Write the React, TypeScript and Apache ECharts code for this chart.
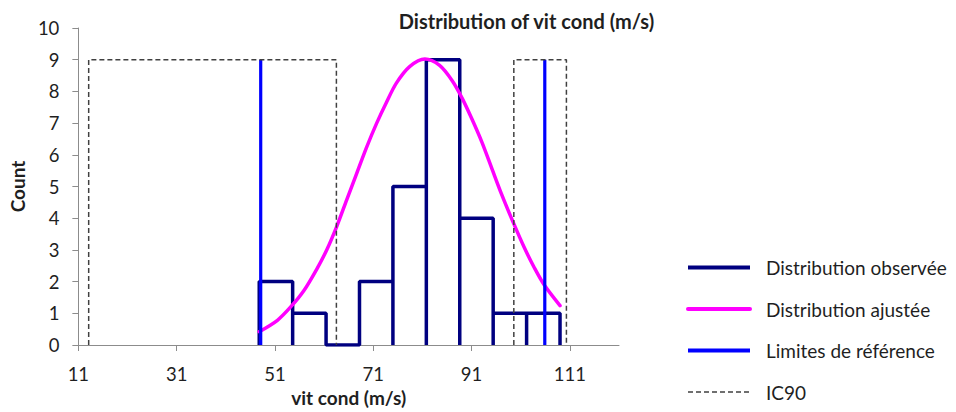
import React, { useEffect, useRef } from 'react';
import * as echarts from 'echarts';

// ---- Data ----
const xTicks = [11, 31, 51, 71, 91, 111];
const binEdges = [47.8, 54.6, 61.4, 68.2, 75.0, 81.8, 88.6, 95.4, 102.2, 109.0];
const binCounts = [2, 1, 0, 2, 5, 9, 4, 1, 1];
const fitX = [47.8, 51.5, 54.2, 56.9, 59.6, 61.6, 63.6, 65.6, 67.6, 69.6, 71.7, 73.7, 75.7, 78.4, 81.5, 84.5, 87.1, 89.1, 91.1, 93.1, 95.1, 97.1, 99.5, 101.8, 103.8, 105.8, 109.0];
const fitY = [0.42, 0.78, 1.2, 1.72, 2.42, 3.02, 3.75, 4.58, 5.4, 6.22, 7.0, 7.66, 8.26, 8.78, 9.02, 8.82, 8.33, 7.78, 7.12, 6.4, 5.58, 4.76, 3.86, 3.05, 2.43, 1.89, 1.24];
const refLimits = [48.1, 105.9];
const refLimitTop = 9;
const ic90Left = [13.1, 63.5];
const ic90Right = [99.6, 110.3];
const ic90Top = 9;
const legendNames = ['Distribution observée', 'Distribution ajustée', 'Limites de référence', 'IC90'];

const FONT = 'Lato';
const TEXT = '#1f1f1f';
const AXIS = '#8c8c8c';

function histogramPath(): number[][] {
  const pts: number[][] = [];
  binCounts.forEach((c, i) => {
    const l = binEdges[i];
    const r = binEdges[i + 1];
    if (i === 0) pts.push([l, 0]);
    pts.push([l, c], [r, c], [r, 0]);
  });
  return pts;
}

function boxPath(lo: number, hi: number, top: number): number[][] {
  return [[lo, 0], [lo, top], [hi, top], [hi, 0]];
}

export default function App() {
  const ref = useRef<HTMLDivElement>(null);
  useEffect(() => {
    document.body.style.margin = '0';
    const chart = echarts.init(ref.current!, null, { renderer: 'svg' });
    const dashed = { color: '#404040', width: 1.5, type: [5, 3] as any };
    const option: any = {
      animation: false,
      grid: { left: 70, top: 28, width: 549, height: 319.5, containLabel: false },
      graphic: [
        {
          type: 'text',
          x: 526.5,
          y: 21,
          style: {
            text: 'Distribution of vit cond (m/s)',
            fontFamily: FONT,
            fontWeight: 'bold',
            fontSize: 20,
            fill: TEXT,
            align: 'center',
            verticalAlign: 'middle',
          },
        },
      ],
      legend: {
        orient: 'vertical',
        left: 686,
        top: 258,
        height: 152,
        padding: 0,
        itemWidth: 62,
        itemHeight: 14,
        itemGap: 22.5,
        data: legendNames.map((n, i) => ({
          name: n,
          lineStyle: i === 3 ? { width: 1.5 } : { width: 4 },
        })),
        itemStyle: { opacity: 0 },
        textStyle: { fontFamily: FONT, fontSize: 19, color: TEXT, padding: [0, 0, 0, 11] },
        selectedMode: false,
      },
      xAxis: {
        type: 'value',
        min: 11,
        max: 121,
        interval: 20,
        name: 'vit cond (m/s)',
        nameLocation: 'middle',
        nameGap: 43,
        nameTextStyle: { fontFamily: FONT, fontWeight: 'bold', fontSize: 19, color: TEXT },
        axisLine: { show: true, lineStyle: { color: AXIS, width: 1 } },
        axisTick: { show: true, length: 6, customValues: xTicks, lineStyle: { color: AXIS } },
        axisLabel: { customValues: xTicks, margin: 19, fontFamily: FONT, fontSize: 18.5, color: TEXT },
        splitLine: { show: false },
      },
      yAxis: {
        type: 'value',
        min: 0,
        max: 10,
        interval: 1,
        name: 'Count',
        nameLocation: 'middle',
        nameGap: 42,
        nameRotate: 90,
        nameTextStyle: { fontFamily: FONT, fontWeight: 'bold', fontSize: 19, color: TEXT },
        axisLine: { show: true, lineStyle: { color: AXIS, width: 1 } },
        axisTick: { show: true, length: 6, lineStyle: { color: AXIS } },
        axisLabel: { margin: 19, fontFamily: FONT, fontSize: 18.5, color: TEXT },
        splitLine: { show: false },
      },
      series: [
        {
          name: legendNames[0],
          type: 'line',
          data: histogramPath(),
          symbol: 'none',
          lineStyle: { color: '#000080', width: 3.5 },
          itemStyle: { color: '#000080' },
          z: 2,
        },
        {
          name: legendNames[1],
          type: 'line',
          data: fitX.map((x, i) => [x, fitY[i]]),
          smooth: 0.3,
          symbol: 'none',
          lineStyle: { color: '#FF00FF', width: 3.5, cap: 'round' },
          itemStyle: { color: '#FF00FF' },
          z: 3,
        },
        ...refLimits.map((v) => ({
          name: legendNames[2],
          type: 'line',
          data: [[v, 0], [v, refLimitTop]],
          symbol: 'none',
          lineStyle: { color: '#0000FF', width: 3.2 },
          itemStyle: { color: '#0000FF' },
          z: 4,
        })),
        {
          name: legendNames[3],
          type: 'line',
          data: boxPath(ic90Left[0], ic90Left[1], ic90Top),
          symbol: 'none',
          lineStyle: dashed,
          itemStyle: { color: '#404040' },
          z: 5,
        },
        {
          name: legendNames[3],
          type: 'line',
          data: boxPath(ic90Right[0], ic90Right[1], ic90Top),
          symbol: 'none',
          lineStyle: dashed,
          itemStyle: { color: '#404040' },
          z: 5,
        },
      ],
    };
    chart.setOption(option);
    return () => chart.dispose();
  }, []);
  return <div ref={ref} style={{ width: 956, height: 412 }} />;
}
